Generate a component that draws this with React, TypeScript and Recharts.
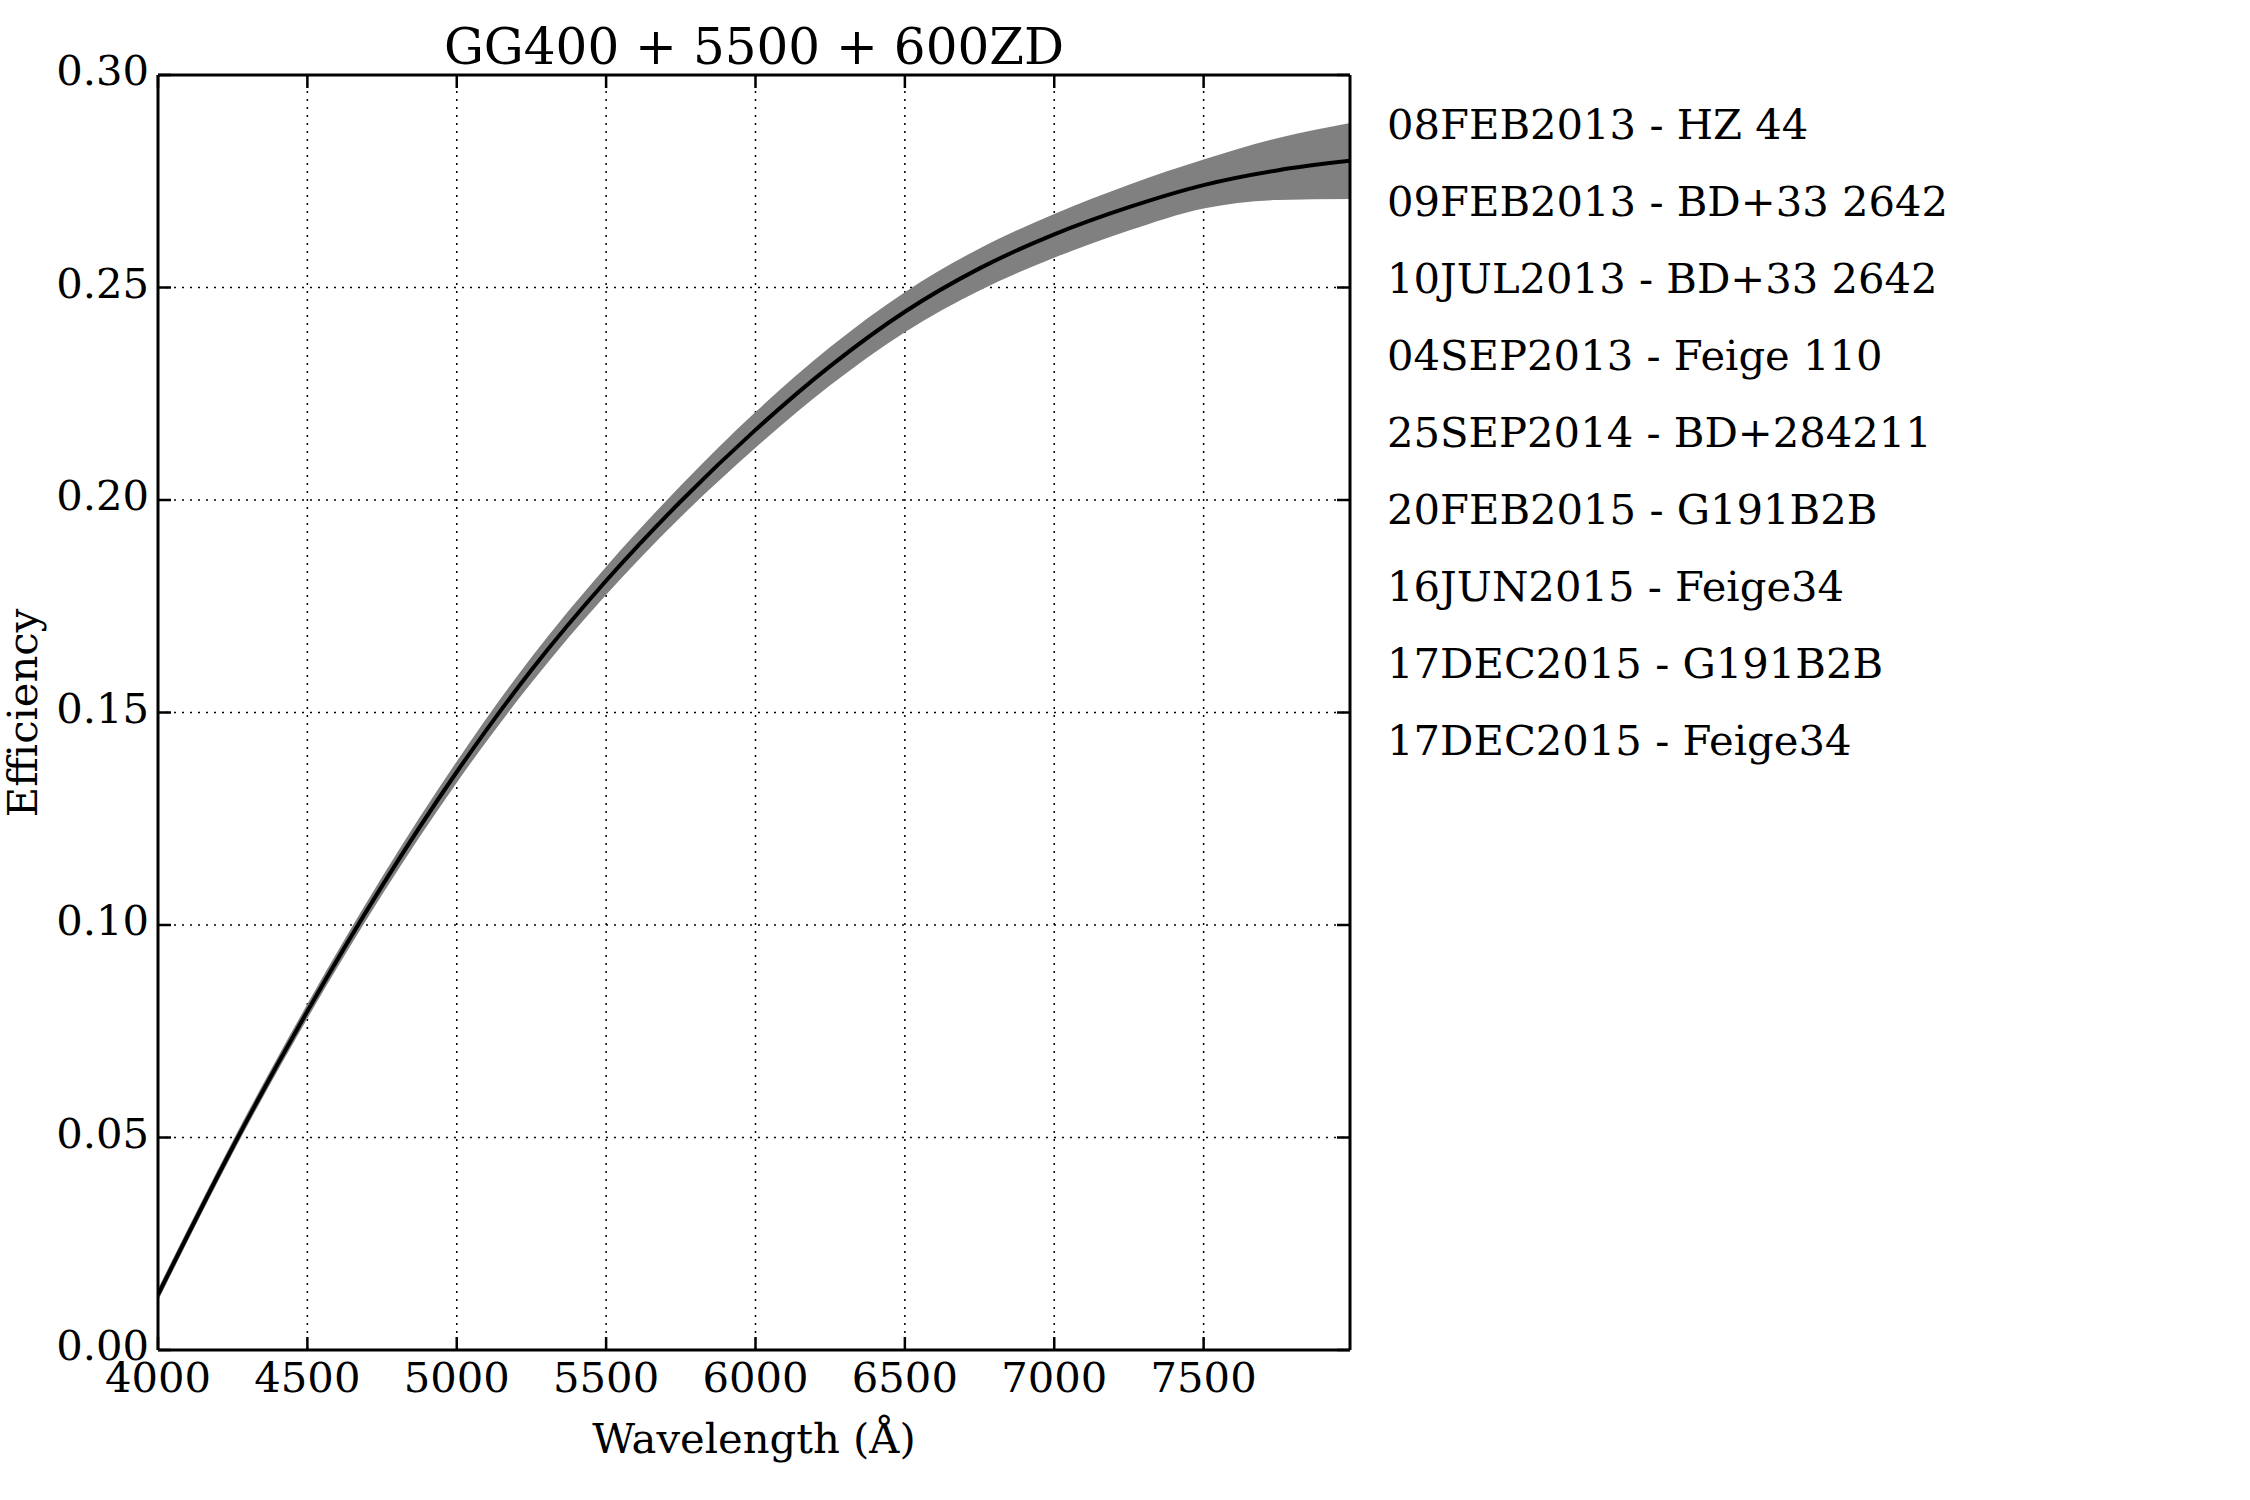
import {
  ComposedChart,
  Area,
  Line,
  XAxis,
  YAxis,
  CartesianGrid,
} from 'recharts';

// wavelength grid (Å) and efficiency
const wavelengths = [4000, 4250, 4500, 4750, 5000, 5250, 5500, 5750, 6000, 6250, 6500, 6750, 7000, 7250, 7500, 7750, 7990];
const meanEfficiency = [0.013, 0.0477, 0.0797, 0.1092, 0.136, 0.16, 0.181, 0.1997, 0.2165, 0.2315, 0.2443, 0.2545, 0.2625, 0.2689, 0.2741, 0.2776, 0.2798];
const lowerEfficiency = [0.0116, 0.0463, 0.078, 0.1071, 0.1335, 0.157, 0.1777, 0.196, 0.2123, 0.227, 0.2395, 0.2493, 0.257, 0.2634, 0.2686, 0.2706, 0.2708];
const upperEfficiency = [0.0144, 0.0492, 0.0814, 0.1113, 0.1385, 0.163, 0.1843, 0.2034, 0.2207, 0.236, 0.2489, 0.2592, 0.2673, 0.2742, 0.2801, 0.2852, 0.2887];

const xTicks = [4000, 4500, 5000, 5500, 6000, 6500, 7000, 7500];
const yTicks = [0, 0.05, 0.1, 0.15, 0.2, 0.25, 0.3];

const legendLabels = [
  '08FEB2013 - HZ 44',
  '09FEB2013 - BD+33 2642',
  '10JUL2013 - BD+33 2642',
  '04SEP2013 - Feige 110',
  '25SEP2014 - BD+284211',
  '20FEB2015 - G191B2B',
  '16JUN2015 - Feige34',
  '17DEC2015 - G191B2B',
  '17DEC2015 - Feige34',
];

const title = 'GG400 + 5500 + 600ZD';
const xLabel = 'Wavelength (Å)';
const yLabel = 'Efficiency';

const data = wavelengths.map((wl, i) => ({
  wl,
  eff: meanEfficiency[i],
  band: [lowerEfficiency[i], upperEfficiency[i]],
}));

const FONT = "'DejaVu Serif', serif";
const TEXT_SIZE = 41.7;
const TICK_LEN = 13;

const BottomTick = (props: any) => {
  const { x, y, payload } = props;
  return (
    <g>
      <line x1={x} y1={y} x2={x} y2={y - TICK_LEN} stroke="#000" strokeWidth={2.5} />
      <text x={x} y={y + 42} textAnchor="middle" fontFamily={FONT} fontSize={TEXT_SIZE} fill="#000">
        {payload.value}
      </text>
    </g>
  );
};

const TopTick = (props: any) => {
  const { x, y } = props;
  return <line x1={x} y1={y} x2={x} y2={y + TICK_LEN} stroke="#000" strokeWidth={2.5} />;
};

const LeftTick = (props: any) => {
  const { x, y, payload } = props;
  return (
    <g>
      <line x1={x} y1={y} x2={x + TICK_LEN} y2={y} stroke="#000" strokeWidth={2.5} />
      <text x={x - 9} y={y + 10} textAnchor="end" fontFamily={FONT} fontSize={TEXT_SIZE} fill="#000">
        {Number(payload.value).toFixed(2)}
      </text>
    </g>
  );
};

const RightTick = (props: any) => {
  const { x, y } = props;
  return <line x1={x} y1={y} x2={x - TICK_LEN} y2={y} stroke="#000" strokeWidth={2.5} />;
};

export default function App() {
  return (
    <div style={{ position: 'absolute', left: 0, top: 0, width: 2250, height: 1500, background: '#fff' }}>
      <svg
        width={2250}
        height={1500}
        style={{ position: 'absolute', left: 0, top: 0 }}
        fontFamily={FONT}
      >
        <text x={754} y={64} textAnchor="middle" fontSize={50}>{title}</text>
        <text x={754} y={1453} textAnchor="middle" fontSize={TEXT_SIZE}>{xLabel}</text>
        <text x={37} y={713} textAnchor="middle" fontSize={TEXT_SIZE} transform="rotate(-90 37 713)">
          {yLabel}
        </text>
        {legendLabels.map((label, i) => (
          <text key={label + i} x={1387} y={139 + i * 77} fontSize={TEXT_SIZE}>
            {label}
          </text>
        ))}
      </svg>
      <div style={{ position: 'absolute', left: 0, top: 0 }}>
        <ComposedChart
          width={2250}
          height={1500}
          data={data}
          margin={{ top: 74, right: 899, bottom: 149, left: 157 }}
        >
          <CartesianGrid
            stroke="#000"
            strokeWidth={1.5}
            strokeDasharray="2 6"
            horizontalValues={yTicks}
            verticalValues={xTicks}
          />
          <XAxis
            dataKey="wl"
            type="number"
            domain={[4000, 7990]}
            ticks={xTicks}
            allowDataOverflow
            height={1}
            tickSize={0}
            tickMargin={0}
            tick={BottomTick}
            axisLine={{ stroke: '#000', strokeWidth: 3 }}
            tickLine={false}
          />
          <XAxis
            xAxisId="top"
            orientation="top"
            dataKey="wl"
            type="number"
            domain={[4000, 7990]}
            ticks={xTicks}
            allowDataOverflow
            height={1}
            tickSize={0}
            tickMargin={0}
            tick={TopTick}
            axisLine={{ stroke: '#000', strokeWidth: 3 }}
            tickLine={false}
          />
          <YAxis
            type="number"
            domain={[0, 0.3]}
            ticks={yTicks}
            allowDataOverflow
            width={1}
            tickSize={0}
            tickMargin={0}
            tick={LeftTick}
            axisLine={{ stroke: '#000', strokeWidth: 3 }}
            tickLine={false}
          />
          <YAxis
            yAxisId="right"
            orientation="right"
            type="number"
            domain={[0, 0.3]}
            ticks={yTicks}
            allowDataOverflow
            width={1}
            tickSize={0}
            tickMargin={0}
            tick={RightTick}
            axisLine={{ stroke: '#000', strokeWidth: 3 }}
            tickLine={false}
          />
          <Area
            dataKey="band"
            type="monotone"
            fill="#808080"
            fillOpacity={1}
            stroke="none"
            isAnimationActive={false}
          />
          <Line
            dataKey="eff"
            type="monotone"
            stroke="#000"
            strokeWidth={4}
            dot={false}
            isAnimationActive={false}
          />
        </ComposedChart>
      </div>
    </div>
  );
}
